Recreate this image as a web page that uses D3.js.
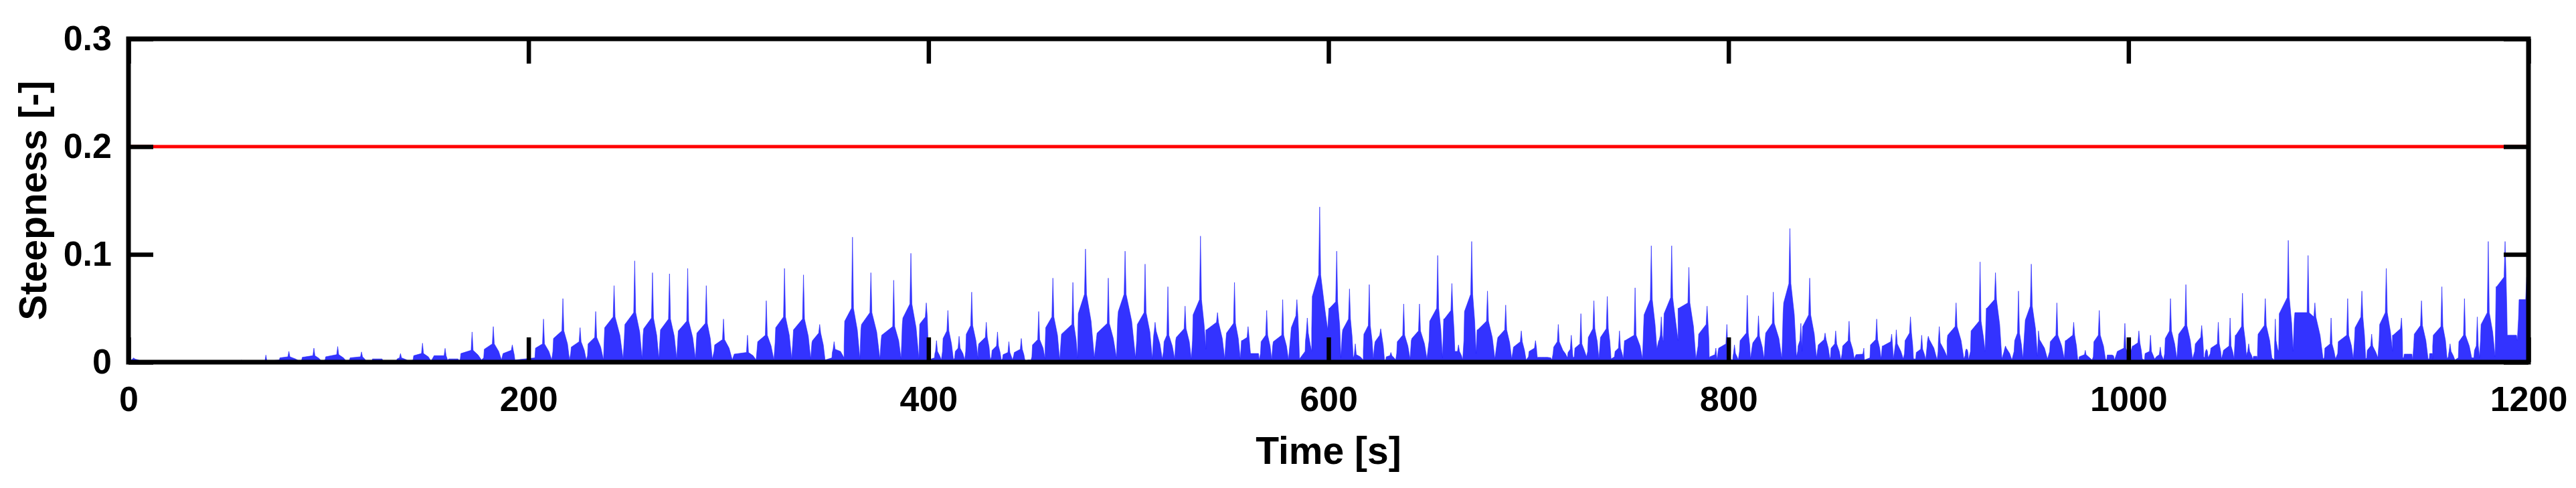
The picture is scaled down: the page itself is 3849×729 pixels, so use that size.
<!DOCTYPE html>
<html>
<head>
<meta charset="utf-8">
<script src="https://cdn.jsdelivr.net/npm/d3@7"></script>
<style>
  body { margin: 0; background: #fff; }
  text { font-family: "Liberation Sans", Arial, sans-serif; font-weight: bold; fill: #000; }
</style>
</head>
<body>
<svg id="chart" width="3849" height="729"></svg>
<script>
var xTicks = [0, 200, 400, 600, 800, 1000, 1200],
    yTicks = [0, 0.1, 0.2, 0.3],
    yTickLabels = ['0', '0.1', '0.2', '0.3'],
    limitValue = 0.2;

// one line per wave group:
// start, jump, shoulder, peak, shoulder, tail, end
var time = [
  1.0, 1.3, 2.1, 2.6, 3.1, 4.9, 6.0,
  55.8, 56.0, 56.3, 56.5, 56.7, 57.0, 57.2,
  67.8, 68.0, 68.3, 68.7, 69.1, 69.4, 69.6,
  75.4, 75.7, 79.7, 80.2, 80.7, 83.5, 85.4,
  86.6, 86.9, 92.2, 92.7, 93.2, 95.2, 96.6,
  98.3, 98.6, 104.1, 104.6, 105.1, 107.5, 108.9,
  110.5, 110.8, 116.0, 116.5, 117.0, 118.1, 118.9,
  121.7, 122.0, 123.5, 124.5, 125.5, 126.8, 127.3,
  134.0, 134.3, 135.5, 136.0, 136.5, 138.6, 140.1,
  142.3, 142.6, 146.5, 147.0, 147.5, 149.9, 151.3,
  152.5, 152.8, 157.8, 158.3, 158.8, 159.2, 159.5,
  159.8, 160.1, 161.5, 162.5, 163.5, 164.8, 165.3,
  165.9, 166.2, 171.3, 171.8, 172.3, 174.8, 176.5,
  177.6, 177.9, 181.9, 182.4, 182.9, 185.1, 186.5,
  187.0, 187.3, 191.4, 191.9, 192.4, 192.9, 193.2,
  203.2, 203.5, 207.0, 207.5, 208.0, 210.2, 211.6,
  212.2, 212.5, 216.7, 217.2, 217.7, 219.5, 220.5,
  221.1, 221.4, 225.3, 225.8, 226.3, 227.9, 228.9,
  229.5, 229.8, 233.1, 233.6, 234.1, 236.1, 237.5,
  237.8, 238.1, 242.3, 242.8, 243.3, 245.7, 247.3,
  247.9, 248.2, 252.6, 253.1, 253.6, 255.6, 256.8,
  257.3, 257.6, 261.5, 262.0, 262.5, 264.1, 265.2,
  265.7, 266.0, 270.0, 270.5, 271.0, 272.9, 274.1,
  274.6, 274.9, 279.1, 279.6, 280.1, 282.1, 283.5,
  283.9, 284.2, 288.4, 288.9, 289.4, 290.9, 291.9,
  292.8, 293.1, 297.0, 297.5, 298.0, 300.3, 301.9,
  302.6, 302.9, 309.0, 309.5, 310.0, 312.3, 313.8,
  314.3, 314.6, 318.4, 318.9, 319.4, 321.3, 322.7,
  323.3, 323.6, 327.5, 328.0, 328.5, 330.4, 331.6,
  332.2, 332.5, 337.0, 337.5, 338.0, 339.9, 341.1,
  341.7, 342.0, 345.1, 345.6, 346.1, 347.4, 348.3,
  351.7, 351.9, 352.3, 352.8, 353.3, 356.0, 357.8,
  357.8, 358.1, 361.5, 362.0, 362.5, 364.4, 365.7,
  366.2, 366.5, 370.7, 371.2, 371.7, 374.1, 375.7,
  376.3, 376.6, 382.1, 382.6, 383.1, 385.1, 386.3,
  386.9, 387.2, 390.7, 391.2, 391.7, 393.8, 395.2,
  395.6, 395.9, 398.4, 398.9, 399.4, 399.7, 399.9,
  403.0, 403.2, 403.5, 404.0, 404.5, 405.6, 406.4,
  407.0, 407.3, 409.2, 409.7, 410.2, 411.5, 412.5,
  413.1, 413.4, 414.8, 415.3, 415.8, 417.2, 418.1,
  418.6, 418.9, 421.1, 421.6, 422.1, 423.7, 424.8,
  424.8, 425.1, 428.4, 428.9, 429.4, 430.3, 430.9,
  431.5, 431.8, 434.0, 434.5, 435.0, 435.8, 436.4,
  437.0, 437.3, 439.7, 440.2, 440.7, 441.5, 442.0,
  442.6, 442.9, 445.9, 446.4, 446.9, 447.7, 448.2,
  449.4, 449.6, 449.9, 450.3, 450.7, 450.9, 451.1,
  451.7, 452.0, 454.6, 455.1, 455.6, 457.3, 458.3,
  458.3, 458.6, 461.7, 462.2, 462.7, 464.5, 465.6,
  466.2, 466.5, 471.7, 472.2, 472.7, 473.8, 474.5,
  474.9, 475.2, 478.0, 478.5, 479.0, 481.3, 482.9,
  484.0, 484.3, 489.4, 489.9, 490.4, 492.4, 494.0,
  494.6, 494.9, 497.8, 498.3, 498.8, 501.6, 503.5,
  504.1, 504.4, 507.8, 508.3, 508.8, 510.7, 511.9,
  512.4, 512.6, 512.9, 513.3, 513.8, 515.7, 516.9,
  517.5, 517.8, 519.2, 519.7, 520.2, 521.9, 523.1,
  523.6, 523.9, 527.8, 528.3, 528.8, 530.4, 531.4,
  532.0, 532.3, 535.5, 536.0, 536.5, 537.8, 538.7,
  538.7, 539.0, 544.0, 544.5, 545.0, 546.9, 548.1,
  548.7, 549.0, 552.5, 553.0, 553.5, 554.9, 555.9,
  556.5, 556.8, 559.3, 559.8, 560.3, 560.7, 561.0,
  561.0, 561.3, 562.5, 563.2, 564.0, 565.0, 565.4,
  566.0, 566.3, 568.6, 569.1, 569.6, 570.8, 571.6,
  572.1, 572.4, 576.6, 577.1, 577.6, 579.0, 580.0,
  581.1, 581.4, 583.7, 584.2, 584.7, 585.1, 585.5,
  588.3, 588.5, 588.9, 589.4, 589.9, 590.9, 591.6,
  591.6, 591.9, 595.1, 595.6, 596.1, 598.2, 599.6,
  600.2, 600.5, 603.6, 604.1, 604.6, 605.6, 606.2,
  606.8, 607.1, 610.0, 610.5, 611.0, 611.8, 612.4,
  612.4, 612.6, 612.9, 613.4, 613.9, 615.9, 617.4,
  617.4, 617.7, 619.9, 620.4, 620.9, 621.8, 622.4,
  623.0, 623.3, 625.6, 626.1, 626.6, 627.4, 628.0,
  628.6, 628.9, 630.7, 631.2, 631.7, 632.8, 633.6,
  634.1, 634.4, 637.1, 637.6, 638.1, 639.7, 640.8,
  641.4, 641.7, 645.0, 645.5, 646.0, 648.0, 649.2,
  650.3, 650.6, 654.1, 654.6, 655.1, 656.2, 657.0,
  657.6, 657.9, 661.2, 661.7, 662.2, 662.8, 663.2,
  663.2, 663.5, 664.5, 665.0, 665.5, 666.5, 667.1,
  667.7, 668.0, 671.1, 671.6, 672.1, 673.1, 673.8,
  674.3, 674.6, 679.0, 679.5, 680.0, 681.9, 683.2,
  684.4, 684.7, 688.1, 688.6, 689.1, 690.6, 691.6,
  692.2, 692.5, 695.9, 696.4, 696.9, 698.0, 698.8,
  700.0, 700.3, 703.0, 703.5, 704.0, 704.2, 704.4,
  704.4, 704.7, 706.5, 708.0, 709.5, 711.2, 711.7,
  712.3, 712.6, 714.4, 714.9, 715.4, 717.2, 718.4,
  719.5, 719.8, 720.9, 721.4, 721.9, 722.1, 722.3,
  722.9, 723.2, 725.7, 726.2, 726.7, 728.1, 729.0,
  729.6, 729.9, 732.2, 732.7, 733.2, 734.4, 735.2,
  735.7, 736.0, 738.9, 739.4, 739.9, 740.7, 741.3,
  743.0, 743.3, 745.0, 745.5, 746.0, 746.8, 747.4,
  748.0, 748.3, 752.8, 753.3, 753.8, 755.8, 757.0,
  757.5, 757.8, 760.9, 761.4, 761.9, 763.3, 764.2,
  765.1, 765.3, 765.9, 766.4, 766.9, 767.3, 767.5,
  767.5, 767.8, 771.1, 771.6, 772.1, 773.7, 774.8,
  774.8, 775.1, 779.7, 780.2, 780.7, 782.5, 783.7,
  784.8, 785.1, 788.8, 789.3, 789.8, 790.2, 790.4,
  790.4, 790.7, 793.2, 793.7, 794.0, 794.2, 794.3,
  794.8, 795.1, 798.7, 799.2, 799.6, 799.8, 799.9,
  802.1, 802.3, 802.5, 803.0, 803.5, 804.3, 804.9,
  805.5, 805.8, 808.9, 809.4, 809.9, 810.6, 811.0,
  811.9, 812.2, 814.5, 815.0, 815.5, 816.9, 817.8,
  818.3, 818.6, 821.9, 822.4, 822.9, 825.2, 826.7,
  827.3, 827.6, 830.2, 830.7, 831.2, 832.9, 834.0,
  834.6, 834.8, 835.7, 836.2, 836.5, 836.7, 836.8,
  836.8, 837.1, 840.1, 840.6, 841.1, 842.9, 844.0,
  844.6, 844.9, 847.8, 848.3, 848.8, 849.9, 850.7,
  851.0, 851.3, 853.1, 853.6, 854.1, 855.4, 856.2,
  856.8, 857.1, 859.8, 860.3, 860.8, 862.1, 862.9,
  863.5, 863.8, 867.2, 867.7, 867.8, 867.9, 868.0,
  870.7, 871.0, 873.6, 874.1, 874.6, 875.6, 876.3,
  876.9, 877.2, 881.1, 881.6, 881.9, 882.2, 882.4,
  883.0, 883.2, 883.5, 883.9, 884.4, 886.2, 887.4,
  888.0, 888.3, 890.5, 891.0, 891.5, 892.1, 892.5,
  893.6, 893.9, 896.1, 896.6, 897.1, 898.0, 898.6,
  899.3, 899.4, 899.6, 899.9, 900.4, 902.7, 904.3,
  904.8, 904.85, 904.9, 905.4, 905.9, 907.9, 909.3,
  909.3, 909.6, 913.3, 913.8, 914.3, 916.3, 917.7,
  918.3, 918.5, 918.8, 919.2, 919.5, 919.8, 920.0,
  921.0, 921.3, 925.3, 925.8, 926.3, 927.5, 928.3,
  928.9, 929.2, 933.0, 933.5, 934.0, 935.6, 936.7,
  937.8, 937.9, 938.2, 938.5, 938.9, 940.6, 941.7,
  942.8, 943.1, 944.5, 945.0, 945.5, 946.5, 947.2,
  948.1, 948.4, 950.9, 951.4, 951.9, 953.5, 954.5,
  954.8, 954.85, 954.9, 955.0, 955.5, 958.0, 959.5,
  960.6, 960.9, 963.7, 964.2, 964.7, 966.6, 967.9,
  968.4, 968.7, 972.1, 972.6, 973.1, 974.0, 974.6,
  975.1, 975.4, 978.0, 978.4, 978.8, 980.6, 981.8,
  982.4, 982.7, 984.9, 985.4, 985.9, 987.5, 988.5,
  989.1, 989.4, 990.3, 991.0, 991.7, 992.5, 993.0,
  994.1, 994.4, 997.7, 998.2, 998.7, 999.6, 1000.2,
  1002.0, 1002.3, 1004.7, 1005.2, 1005.7, 1006.4, 1006.9,
  1008.0, 1008.3, 1010.5, 1011.0, 1011.5, 1012.4, 1013.0,
  1013.6, 1013.9, 1015.4, 1015.9, 1016.4, 1017.1, 1017.5,
  1018.1, 1018.4, 1020.5, 1021.0, 1021.5, 1023.1, 1024.2,
  1024.8, 1025.1, 1028.2, 1028.7, 1029.2, 1030.9, 1032.0,
  1033.1, 1033.4, 1036.1, 1036.6, 1037.1, 1037.4, 1037.6,
  1038.1, 1038.3, 1038.5, 1039.0, 1039.5, 1039.7, 1039.8,
  1040.9, 1041.2, 1044.4, 1044.9, 1045.4, 1046.1, 1046.5,
  1047.2, 1047.5, 1050.3, 1050.8, 1051.3, 1052.2, 1052.8,
  1053.4, 1053.7, 1056.5, 1057.0, 1057.5, 1058.4, 1059.0,
  1059.0, 1059.2, 1059.6, 1060.1, 1060.6, 1061.6, 1062.2,
  1062.2, 1062.5, 1063.0, 1063.4, 1063.8, 1064.2, 1064.5,
  1064.5, 1064.8, 1067.9, 1068.4, 1068.9, 1070.6, 1071.7,
  1072.9, 1073.0, 1073.1, 1073.4, 1073.8, 1074.6, 1075.1,
  1075.1, 1075.4, 1079.4, 1079.9, 1080.4, 1081.6, 1082.3,
  1082.9, 1083.2, 1089.3, 1089.8, 1090.3, 1092.7, 1093.2, 1093.7, 1095.8, 1097.3,
  1097.9, 1098.2, 1100.8, 1101.3, 1101.8, 1102.8, 1103.5,
  1104.6, 1104.9, 1109.1, 1109.6, 1110.1, 1111.5, 1112.4,
  1113.0, 1113.3, 1116.2, 1116.7, 1117.2, 1118.0, 1118.6,
  1119.1, 1119.4, 1121.1, 1121.6, 1122.1, 1123.7, 1124.7,
  1125.3, 1125.6, 1128.4, 1128.9, 1129.4, 1131.0, 1132.0,
  1132.0, 1132.3, 1136.0, 1136.5, 1136.8, 1137.0, 1137.1,
  1137.6, 1137.9, 1139.0, 1140.0, 1141.0, 1141.7, 1142.1,
  1142.6, 1142.9, 1146.0, 1146.5, 1147.0, 1148.7, 1149.8,
  1150.4, 1150.6, 1150.9, 1151.3, 1151.6, 1151.9, 1152.1,
  1152.1, 1152.4, 1156.2, 1156.7, 1157.2, 1158.5, 1159.3,
  1159.9, 1160.1, 1160.3, 1160.8, 1161.3, 1162.4, 1163.2,
  1164.9, 1165.2, 1167.5, 1168.0, 1168.5, 1170.4, 1171.6,
  1172.7, 1173.0, 1173.9, 1174.4, 1174.9, 1175.3, 1175.5,
  1176.0, 1176.3, 1179.4, 1179.9, 1180.4, 1182.1, 1183.3,
  1183.8, 1184.1, 1187.8, 1188.3, 1188.8, 1189.2, 1189.4,
  1189.4, 1189.7, 1190.5, 1192.0, 1193.5, 1194.0, 1194.4,
  1195.0, 1195.3, 1198.6, 1199.1, 1199.4, 1199.7, 1200.0
];

var steepness = [
  0.001, 0.002, 0.003, 0.004, 0.003, 0.002, 0.001,
  0.001, 0.001, 0.001, 0.002, 0.001, 0.001, 0.001,
  0.001, 0.001, 0.002, 0.0066, 0.002, 0.001, 0.001,
  0.002, 0.004, 0.005, 0.010, 0.005, 0.003, 0.001,
  0.002, 0.0045, 0.006, 0.013, 0.006, 0.0036, 0.001,
  0.002, 0.005, 0.007, 0.0145, 0.007, 0.004, 0.001,
  0.002, 0.004, 0.005, 0.0095, 0.005, 0.003, 0.001,
  0.001, 0.003, 0.003, 0.003, 0.003, 0.003, 0.001,
  0.001, 0.003, 0.004, 0.008, 0.004, 0.0025, 0.001,
  0.002, 0.006, 0.008, 0.0176, 0.008, 0.005, 0.001,
  0.005, 0.006, 0.006, 0.0128, 0.006, 0.004, 0.002,
  0.002, 0.003, 0.003, 0.003, 0.003, 0.003, 0.001,
  0.003, 0.008, 0.011, 0.028, 0.011, 0.0066, 0.002,
  0.004, 0.012, 0.017, 0.033, 0.017, 0.010, 0.002,
  0.006, 0.008, 0.011, 0.016, 0.011, 0.0066, 0.002,
  0.004, 0.013, 0.017, 0.040, 0.017, 0.010, 0.002,
  0.010, 0.022, 0.029, 0.059, 0.029, 0.017, 0.002,
  0.008, 0.014, 0.019, 0.032, 0.019, 0.011, 0.002,
  0.006, 0.017, 0.023, 0.047, 0.023, 0.014, 0.002,
  0.018, 0.032, 0.042, 0.071, 0.042, 0.025, 0.003,
  0.022, 0.035, 0.046, 0.094, 0.046, 0.028, 0.003,
  0.025, 0.031, 0.041, 0.083, 0.041, 0.025, 0.003,
  0.020, 0.030, 0.040, 0.082, 0.040, 0.024, 0.003,
  0.020, 0.029, 0.038, 0.087, 0.038, 0.023, 0.003,
  0.018, 0.027, 0.036, 0.071, 0.036, 0.022, 0.003,
  0.010, 0.016, 0.021, 0.040, 0.021, 0.013, 0.002,
  0.006, 0.0075, 0.009, 0.025, 0.009, 0.006, 0.002,
  0.012, 0.019, 0.025, 0.057, 0.025, 0.015, 0.002,
  0.018, 0.032, 0.042, 0.087, 0.042, 0.025, 0.003,
  0.020, 0.030, 0.040, 0.081, 0.040, 0.024, 0.003,
  0.018, 0.020, 0.027, 0.035, 0.027, 0.016, 0.002,
  0.004, 0.009, 0.012, 0.019, 0.012, 0.010, 0.004,
  0.015, 0.038, 0.050, 0.116, 0.050, 0.030, 0.003,
  0.030, 0.035, 0.046, 0.083, 0.046, 0.028, 0.003,
  0.020, 0.025, 0.033, 0.076, 0.033, 0.020, 0.003,
  0.035, 0.041, 0.054, 0.101, 0.054, 0.032, 0.003,
  0.035, 0.036, 0.042, 0.055, 0.042, 0.025, 0.002,
  0.004, 0.008, 0.010, 0.020, 0.010, 0.006, 0.002,
  0.010, 0.022, 0.029, 0.048, 0.029, 0.017, 0.002,
  0.004, 0.010, 0.013, 0.024, 0.013, 0.008, 0.002,
  0.010, 0.026, 0.034, 0.065, 0.034, 0.020, 0.003,
  0.012, 0.017, 0.023, 0.037, 0.023, 0.014, 0.002,
  0.005, 0.011, 0.015, 0.028, 0.015, 0.009, 0.002,
  0.003, 0.007, 0.009, 0.019, 0.009, 0.005, 0.002,
  0.006, 0.009, 0.012, 0.022, 0.012, 0.007, 0.002,
  0.001, 0.002, 0.002, 0.002, 0.002, 0.002, 0.001,
  0.005, 0.016, 0.021, 0.047, 0.021, 0.013, 0.003,
  0.012, 0.032, 0.042, 0.078, 0.042, 0.025, 0.002,
  0.018, 0.026, 0.035, 0.074, 0.035, 0.021, 0.004,
  0.045, 0.047, 0.063, 0.105, 0.063, 0.038, 0.004,
  0.022, 0.027, 0.036, 0.078, 0.036, 0.022, 0.004,
  0.040, 0.047, 0.063, 0.103, 0.063, 0.038, 0.004,
  0.020, 0.035, 0.046, 0.091, 0.046, 0.028, 0.003,
  0.020, 0.025, 0.029, 0.037, 0.029, 0.017, 0.003,
  0.010, 0.019, 0.025, 0.070, 0.025, 0.015, 0.003,
  0.020, 0.023, 0.031, 0.052, 0.031, 0.019, 0.003,
  0.020, 0.044, 0.058, 0.117, 0.058, 0.035, 0.012,
  0.030, 0.030, 0.037, 0.046, 0.037, 0.022, 0.003,
  0.020, 0.027, 0.036, 0.074, 0.036, 0.022, 0.003,
  0.020, 0.020, 0.023, 0.033, 0.023, 0.014, 0.008,
  0.008, 0.008, 0.008, 0.008, 0.008, 0.008, 0.002,
  0.008, 0.019, 0.025, 0.048, 0.025, 0.015, 0.002,
  0.015, 0.019, 0.025, 0.058, 0.025, 0.015, 0.002,
  0.025, 0.032, 0.043, 0.058, 0.043, 0.026, 0.003,
  0.010, 0.020, 0.027, 0.041, 0.027, 0.016, 0.010,
  0.030, 0.061, 0.081, 0.144, 0.081, 0.049, 0.030,
  0.050, 0.050, 0.056, 0.103, 0.056, 0.034, 0.004,
  0.025, 0.030, 0.040, 0.068, 0.040, 0.024, 0.003,
  0.004, 0.005, 0.007, 0.017, 0.007, 0.005, 0.002,
  0.010, 0.026, 0.034, 0.072, 0.034, 0.020, 0.003,
  0.015, 0.019, 0.025, 0.031, 0.025, 0.015, 0.002,
  0.002, 0.005, 0.006, 0.009, 0.006, 0.004, 0.002,
  0.008, 0.019, 0.025, 0.054, 0.025, 0.015, 0.003,
  0.020, 0.022, 0.029, 0.054, 0.029, 0.017, 0.003,
  0.020, 0.038, 0.050, 0.099, 0.050, 0.030, 0.004,
  0.040, 0.040, 0.048, 0.073, 0.048, 0.029, 0.010,
  0.010, 0.010, 0.010, 0.016, 0.010, 0.006, 0.002,
  0.020, 0.047, 0.063, 0.112, 0.063, 0.038, 0.008,
  0.030, 0.030, 0.038, 0.066, 0.038, 0.023, 0.003,
  0.020, 0.023, 0.030, 0.053, 0.030, 0.018, 0.003,
  0.010, 0.014, 0.019, 0.029, 0.019, 0.011, 0.002,
  0.005, 0.010, 0.013, 0.020, 0.013, 0.008, 0.005,
  0.004, 0.0045, 0.0045, 0.0045, 0.0045, 0.004, 0.002,
  0.008, 0.014, 0.019, 0.035, 0.019, 0.011, 0.008,
  0.004, 0.009, 0.012, 0.025, 0.012, 0.007, 0.004,
  0.005, 0.013, 0.017, 0.045, 0.017, 0.010, 0.005,
  0.010, 0.023, 0.031, 0.057, 0.031, 0.019, 0.003,
  0.015, 0.023, 0.031, 0.061, 0.031, 0.019, 0.003,
  0.005, 0.010, 0.013, 0.029, 0.013, 0.008, 0.003,
  0.020, 0.020, 0.025, 0.069, 0.025, 0.015, 0.003,
  0.030, 0.044, 0.058, 0.108, 0.058, 0.035, 0.012,
  0.020, 0.020, 0.025, 0.042, 0.025, 0.020, 0.020,
  0.025, 0.045, 0.060, 0.108, 0.060, 0.036, 0.020,
  0.050, 0.050, 0.055, 0.088, 0.055, 0.033, 0.003,
  0.015, 0.026, 0.035, 0.052, 0.035, 0.021, 0.004,
  0.003, 0.005, 0.007, 0.013, 0.007, 0.004, 0.002,
  0.010, 0.013, 0.017, 0.035, 0.017, 0.010, 0.003,
  0.002, 0.006, 0.008, 0.016, 0.008, 0.005, 0.002,
  0.010, 0.020, 0.027, 0.062, 0.027, 0.016, 0.003,
  0.015, 0.018, 0.024, 0.043, 0.024, 0.014, 0.003,
  0.020, 0.027, 0.036, 0.065, 0.036, 0.022, 0.003,
  0.045, 0.055, 0.073, 0.124, 0.073, 0.044, 0.005,
  0.010, 0.015, 0.020, 0.036, 0.020, 0.015, 0.010,
  0.020, 0.033, 0.044, 0.078, 0.044, 0.026, 0.004,
  0.012, 0.016, 0.021, 0.027, 0.021, 0.013, 0.003,
  0.005, 0.013, 0.017, 0.029, 0.017, 0.010, 0.002,
  0.008, 0.015, 0.020, 0.038, 0.020, 0.012, 0.003,
  0.006, 0.007, 0.0075, 0.013, 0.0075, 0.005, 0.002,
  0.004, 0.016, 0.021, 0.040, 0.021, 0.013, 0.003,
  0.015, 0.015, 0.019, 0.026, 0.019, 0.011, 0.003,
  0.010, 0.013, 0.017, 0.030, 0.017, 0.010, 0.003,
  0.008, 0.020, 0.027, 0.042, 0.027, 0.016, 0.003,
  0.003, 0.009, 0.012, 0.025, 0.012, 0.007, 0.002,
  0.015, 0.018, 0.021, 0.024, 0.021, 0.013, 0.002,
  0.010, 0.014, 0.018, 0.033, 0.018, 0.011, 0.005,
  0.020, 0.025, 0.033, 0.055, 0.033, 0.020, 0.003,
  0.006, 0.010, 0.012, 0.012, 0.011, 0.008, 0.002,
  0.010, 0.029, 0.038, 0.093, 0.038, 0.023, 0.010,
  0.050, 0.050, 0.058, 0.083, 0.058, 0.035, 0.003,
  0.010, 0.011, 0.013, 0.015, 0.013, 0.008, 0.002,
  0.010, 0.020, 0.027, 0.066, 0.027, 0.016, 0.003,
  0.030, 0.039, 0.052, 0.091, 0.052, 0.031, 0.005,
  0.020, 0.022, 0.024, 0.029, 0.021, 0.013, 0.003,
  0.010, 0.019, 0.025, 0.055, 0.025, 0.015, 0.003,
  0.020, 0.020, 0.025, 0.037, 0.025, 0.015, 0.003,
  0.002, 0.005, 0.007, 0.011, 0.007, 0.004, 0.002,
  0.005, 0.019, 0.025, 0.048, 0.025, 0.015, 0.003,
  0.002, 0.0066, 0.0066, 0.0066, 0.0066, 0.006, 0.002,
  0.008, 0.010, 0.013, 0.036, 0.013, 0.008, 0.004,
  0.015, 0.015, 0.018, 0.029, 0.018, 0.011, 0.003,
  0.002, 0.008, 0.010, 0.025, 0.010, 0.006, 0.003,
  0.004, 0.005, 0.007, 0.014, 0.007, 0.004, 0.002,
  0.008, 0.022, 0.029, 0.059, 0.029, 0.017, 0.003,
  0.020, 0.026, 0.034, 0.072, 0.034, 0.020, 0.003,
  0.010, 0.017, 0.023, 0.034, 0.023, 0.014, 0.005,
  0.004, 0.008, 0.010, 0.012, 0.010, 0.006, 0.004,
  0.008, 0.013, 0.017, 0.037, 0.017, 0.010, 0.003,
  0.008, 0.011, 0.015, 0.041, 0.015, 0.009, 0.003,
  0.025, 0.025, 0.033, 0.064, 0.033, 0.020, 0.005,
  0.005, 0.008, 0.010, 0.017, 0.010, 0.006, 0.002,
  0.002, 0.0055, 0.0055, 0.0055, 0.0055, 0.0055, 0.002,
  0.010, 0.026, 0.034, 0.059, 0.034, 0.020, 0.004,
  0.002, 0.015, 0.020, 0.040, 0.020, 0.012, 0.010,
  0.010, 0.045, 0.060, 0.113, 0.060, 0.036, 0.010,
  0.040, 0.046, 0.046, 0.099, 0.046, 0.042, 0.055, 0.042, 0.025, 0.003,
  0.004, 0.013, 0.017, 0.041, 0.017, 0.010, 0.003,
  0.008, 0.019, 0.025, 0.059, 0.025, 0.015, 0.003,
  0.020, 0.032, 0.042, 0.066, 0.042, 0.025, 0.003,
  0.004, 0.011, 0.015, 0.026, 0.015, 0.009, 0.004,
  0.020, 0.035, 0.046, 0.087, 0.046, 0.028, 0.010,
  0.025, 0.025, 0.031, 0.041, 0.031, 0.019, 0.004,
  0.004, 0.0075, 0.0075, 0.0075, 0.0075, 0.0075, 0.002,
  0.015, 0.026, 0.034, 0.057, 0.034, 0.020, 0.003,
  0.003, 0.008, 0.008, 0.008, 0.008, 0.008, 0.003,
  0.015, 0.025, 0.033, 0.070, 0.033, 0.020, 0.003,
  0.005, 0.008, 0.010, 0.017, 0.010, 0.006, 0.002,
  0.004, 0.019, 0.025, 0.059, 0.025, 0.015, 0.004,
  0.004, 0.011, 0.015, 0.042, 0.015, 0.009, 0.004,
  0.020, 0.035, 0.046, 0.112, 0.046, 0.028, 0.005,
  0.070, 0.070, 0.079, 0.112, 0.079, 0.047, 0.025,
  0.025, 0.025, 0.025, 0.025, 0.025, 0.025, 0.020,
  0.040, 0.058, 0.058, 0.079, 0.079, 0.085, 0.090
];

var width = 3849,
    height = 729,
    plot = { left: 192, right: 3778, top: 58, bottom: 541 },
    tickLen = 37;

var svg = d3.select('#chart');

var x = d3.scaleLinear().domain([0, 1200]).range([plot.left, plot.right]),
    y = d3.scaleLinear().domain([0, 0.3]).range([plot.bottom, plot.top]);

var series = time.map(function(t, i) {
  return { t: t, v: steepness[i] };
});

svg.append('rect')
  .attr('width', width)
  .attr('height', height)
  .attr('fill', '#fff');

// steepness trace
var area = d3.area()
  .x(function(d) { return x(d.t); })
  .y0(y(0))
  .y1(function(d) { return y(d.v); });

svg.append('path')
  .datum(series)
  .attr('fill', '#3333ff')
  .attr('stroke', '#2020ff')
  .attr('stroke-width', 0.6)
  .attr('d', area);

// breaking limit
svg.append('line')
  .attr('x1', x(0))
  .attr('x2', x(1200))
  .attr('y1', y(limitValue))
  .attr('y2', y(limitValue))
  .attr('stroke', '#ff0000')
  .attr('stroke-width', 5);

// axes, ticks point inward on all four sides
function styleAxis(g) {
  g.select('.domain').remove();
  g.selectAll('.tick line')
    .attr('stroke', '#000')
    .attr('stroke-width', 6.5);
  g.selectAll('.tick text')
    .attr('font-family', '"Liberation Sans", Arial, sans-serif')
    .attr('font-weight', 'bold')
    .attr('font-size', 52)
    .attr('fill', '#000');
}

svg.append('g')
  .attr('transform', 'translate(0,' + plot.bottom + ')')
  .call(d3.axisBottom(x).tickValues(xTicks).tickSizeInner(-tickLen).tickSizeOuter(0).tickPadding(36).tickFormat(d3.format('d')))
  .call(styleAxis);

svg.append('g')
  .attr('transform', 'translate(0,' + plot.top + ')')
  .call(d3.axisTop(x).tickValues(xTicks).tickSizeInner(-tickLen).tickSizeOuter(0).tickFormat(''))
  .call(styleAxis);

svg.append('g')
  .attr('transform', 'translate(' + plot.left + ',0)')
  .call(d3.axisLeft(y).tickValues(yTicks).tickSizeInner(-tickLen).tickSizeOuter(0).tickPadding(25)
    .tickFormat(function(d, i) { return yTickLabels[i]; }))
  .call(styleAxis);

svg.append('g')
  .attr('transform', 'translate(' + plot.right + ',0)')
  .call(d3.axisRight(y).tickValues(yTicks).tickSizeInner(-tickLen).tickSizeOuter(0).tickFormat(''))
  .call(styleAxis);

svg.append('rect')
  .attr('x', plot.left)
  .attr('y', plot.top)
  .attr('width', plot.right - plot.left)
  .attr('height', plot.bottom - plot.top)
  .attr('fill', 'none')
  .attr('stroke', '#000')
  .attr('stroke-width', 7);

svg.append('text')
  .attr('x', (plot.left + plot.right) / 2)
  .attr('y', 693)
  .attr('text-anchor', 'middle')
  .attr('font-size', 57)
  .text('Time [s]');

svg.append('text')
  .attr('transform', 'translate(69,' + (plot.top + plot.bottom) / 2 + ') rotate(-90)')
  .attr('text-anchor', 'middle')
  .attr('font-size', 57)
  .text('Steepness [-]');
</script>
</body>
</html>
